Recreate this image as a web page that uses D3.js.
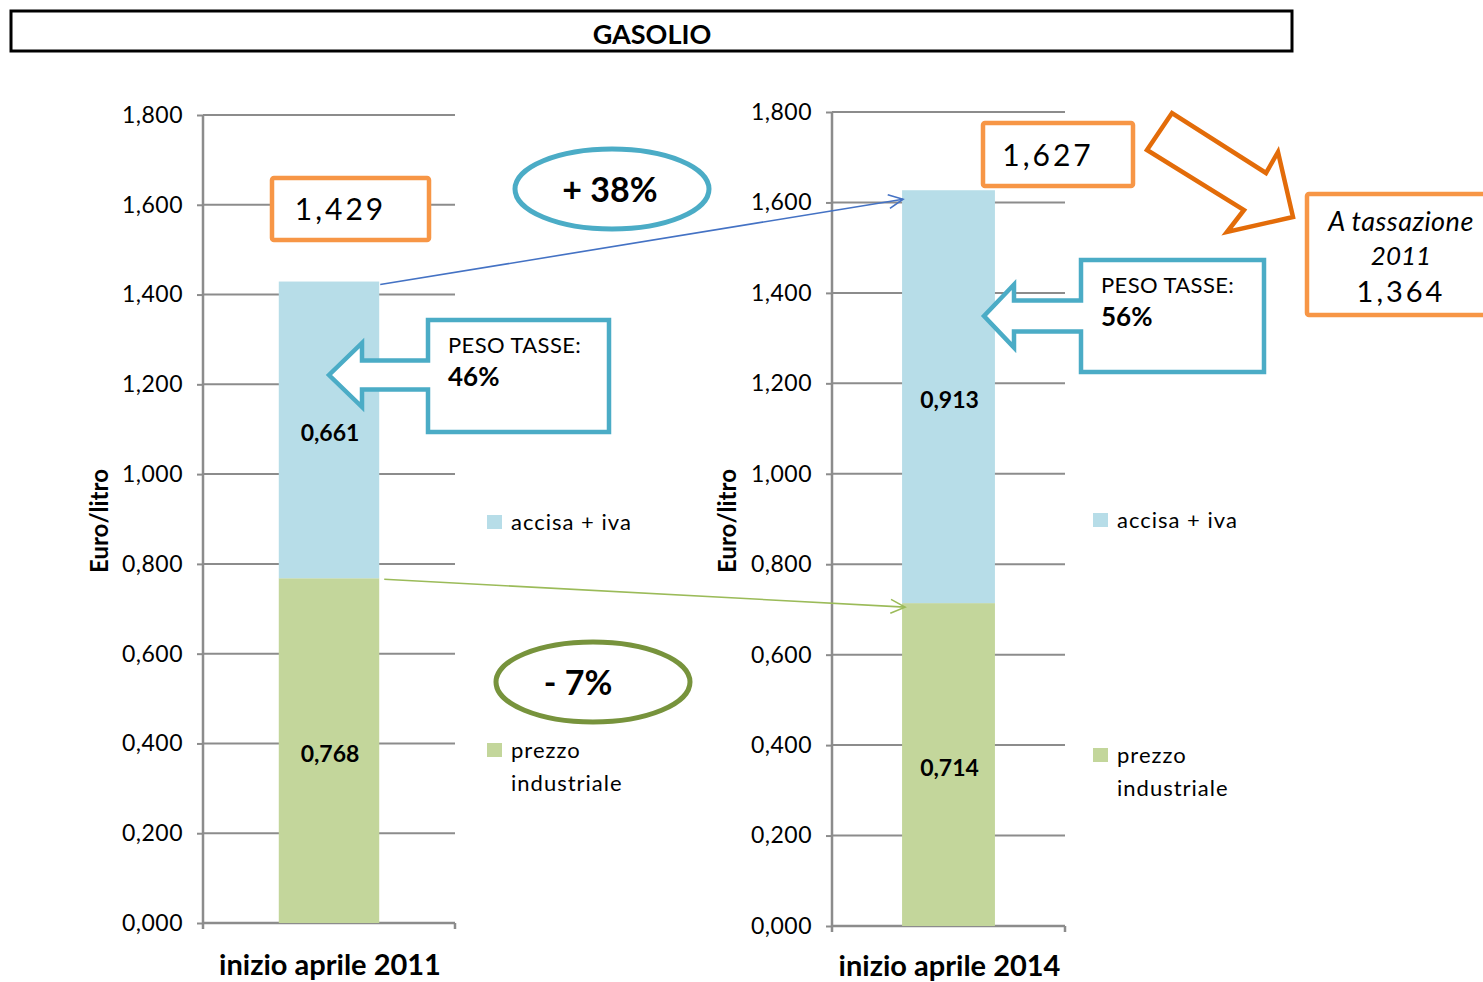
<!DOCTYPE html>
<html>
<head>
<meta charset="utf-8">
<script src="https://cdn.jsdelivr.net/npm/d3@7"></script>
<style>
  html, body { margin: 0; padding: 0; background: #fff; }
  svg { display: block; font-family: Lato, "Open Sans", sans-serif; }
</style>
</head>
<body>
<svg id="chart" width="1483" height="982"></svg>
<script>
// Gasolio: composizione del prezzo al litro, aprile 2011 vs aprile 2014
const title = "GASOLIO";
const categories = ["inizio aprile 2011", "inizio aprile 2014"];
const prezzoIndustriale = [0.768, 0.714];
const acciseIva = [0.661, 0.913];
const totali = [1.429, 1.627];
const pesoTasse = ["46%", "56%"];
const yTicks = [0, 0.2, 0.4, 0.6, 0.8, 1.0, 1.2, 1.4, 1.6, 1.8];
const seriesNames = ["accisa + iva", "prezzo industriale"];
const variazioni = ["+ 38%", "- 7%"];
const totale2014ConTasse2011 = 1.364;

const colors = { accise: "#B7DDE8", prezzo: "#C3D69B", grid: "#8C8C8C",
  orange: "#F79646", orangeDark: "#E36C09", teal: "#4BACC6", olive: "#77933C",
  blueLine: "#4472C4", greenLine: "#9BBB59" };

const fmt = v => d3.format(".3f")(v).replace(".", ",");
const svg = d3.select("#chart");

// title bar
svg.append("rect").attr("x", 11).attr("y", 11).attr("width", 1281).attr("height", 40)
  .attr("fill", "#fff").attr("stroke", "#000").attr("stroke-width", 3);
svg.append("text").attr("x", 652).attr("y", 44).attr("text-anchor", "middle")
  .attr("font-size", 27).attr("font-weight", 700).text(title);

// panel frames (one chart per year)
const panels = [
  { left: 203, right: 455, top: 115, bottom: 923, labelDy: 52, titleX: 108, legendX: 487, legY: [522, 750, 783] },
  { left: 832, right: 1065, top: 112, bottom: 926, labelDy: 50, titleX: 736, legendX: 1093, legY: [520, 755, 788] }
];

panels.forEach((p, i) => {
  const g = svg.append("g");
  const y = d3.scaleLinear().domain([0, 1.8]).range([p.bottom, p.top]);
  const x = d3.scaleBand().domain([categories[i]]).range([p.left, p.right]).padding(0.43);
  p.y = y; p.x = x;

  // gridlines
  g.selectAll("line.grid").data(yTicks.slice(1)).join("line")
    .attr("x1", p.left).attr("x2", p.right)
    .attr("y1", d => y(d)).attr("y2", d => y(d))
    .attr("stroke", colors.grid).attr("stroke-width", 2);

  // y axis
  const ax = g.append("g").attr("transform", `translate(${p.left},0)`)
    .call(d3.axisLeft(y).tickValues(yTicks).tickFormat(fmt).tickSize(6).tickPadding(14));
  ax.select(".domain").attr("stroke", colors.grid).attr("stroke-width", 2.5)
    .attr("d", `M0,${p.top}V${p.bottom}`);
  ax.selectAll(".tick line").attr("stroke", colors.grid).attr("stroke-width", 2);
  ax.selectAll(".tick text").attr("font-size", 23).attr("fill", "#000")
    .attr("font-family", "Lato, sans-serif").attr("letter-spacing", 0.5);

  // x axis
  g.append("path").attr("d", `M${p.left},${p.bottom}H${p.right}M${p.left},${p.bottom}v6M${p.right},${p.bottom}v6`)
    .attr("stroke", colors.grid).attr("stroke-width", 2.5).attr("fill", "none");
  g.append("text").attr("x", x(categories[i]) + x.bandwidth() / 2 + 1).attr("y", p.bottom + p.labelDy)
    .attr("text-anchor", "middle").attr("font-size", 29).attr("font-weight", 700)
    .text(categories[i]);

  // y title
  g.append("text").attr("transform", `translate(${p.titleX},${(p.top + p.bottom) / 2 + 2}) rotate(-90)`)
    .attr("text-anchor", "middle").attr("font-size", 24).attr("font-weight", 700).text("Euro/litro");

  // stacked bars
  const segs = [
    { v0: 0, v1: prezzoIndustriale[i], c: colors.prezzo, lab: prezzoIndustriale[i] },
    { v0: prezzoIndustriale[i], v1: prezzoIndustriale[i] + acciseIva[i], c: colors.accise, lab: acciseIva[i] }
  ];
  g.selectAll("rect.bar").data(segs).join("rect")
    .attr("x", x(categories[i])).attr("width", x.bandwidth())
    .attr("y", d => y(d.v1)).attr("height", d => y(d.v0) - y(d.v1)).attr("fill", d => d.c);
  g.selectAll("text.lab").data(segs).join("text")
    .attr("x", x(categories[i]) + x.bandwidth() / 2 + 1).attr("y", d => (y(d.v0) + y(d.v1)) / 2 + 11)
    .attr("text-anchor", "middle").attr("font-size", 23).attr("font-weight", 700)
    .text(d => fmt(d.lab));

  // legend
  const lg = g.append("g");
  const lt = (yy, t) => lg.append("text").attr("x", p.legendX + 24).attr("y", yy + 8)
    .attr("font-size", 22).attr("letter-spacing", 1).text(t);
  lg.append("rect").attr("x", p.legendX).attr("y", p.legY[0] - 7).attr("width", 15).attr("height", 14).attr("fill", colors.accise);
  lt(p.legY[0], seriesNames[0]);
  lg.append("rect").attr("x", p.legendX).attr("y", p.legY[1] - 7).attr("width", 15).attr("height", 14).attr("fill", colors.prezzo);
  const words = seriesNames[1].split(" ");
  lt(p.legY[1], words[0]);
  lt(p.legY[2], words[1]);
});

const [P0, P1] = panels;
const c0 = categories[0], c1 = categories[1];

// straight connector with an open arrowhead
function arrowLine(x1, y1, x2, y2, color) {
  svg.append("line").attr("x1", x1).attr("y1", y1).attr("x2", x2).attr("y2", y2)
    .attr("stroke", color).attr("stroke-width", 1.6);
  const a = Math.atan2(y2 - y1, x2 - x1), L = 16, w = 0.45;
  const p1 = [x2 - L * Math.cos(a - w), y2 - L * Math.sin(a - w)];
  const p2 = [x2 - L * Math.cos(a + w), y2 - L * Math.sin(a + w)];
  svg.append("path").attr("d", `M${p1}L${x2},${y2}L${p2}`)
    .attr("fill", "none").attr("stroke", color).attr("stroke-width", 1.6);
}
// totals trend
arrowLine(P0.x(c0) + P0.x.bandwidth() + 1, P0.y(totali[0]) + 3,
          P1.x(c1) + 1, P1.y(totali[1]) + 9, colors.blueLine);
// industrial price trend
arrowLine(P0.x(c0) + P0.x.bandwidth() + 5, P0.y(prezzoIndustriale[0]) + 1,
          P1.x(c1) + 3, P1.y(prezzoIndustriale[1]) + 4, colors.greenLine);

// orange total boxes
function totalBox(x, y, w, h, label) {
  svg.append("rect").attr("x", x).attr("y", y).attr("width", w).attr("height", h).attr("rx", 2)
    .attr("fill", "#fff").attr("stroke", colors.orange).attr("stroke-width", 4.5);
  svg.append("text").attr("x", x + w / 2 - 10).attr("y", y + h / 2 + 11).attr("text-anchor", "middle")
    .attr("font-size", 30).attr("letter-spacing", 3).text(label);
}
totalBox(272, 178, 157, 62, fmt(totali[0]));
totalBox(983, 123, 150, 63, fmt(totali[1]));

// variation ellipses
function varEllipse(cx, cy, dx, color, label) {
  svg.append("ellipse").attr("cx", cx).attr("cy", cy).attr("rx", 97).attr("ry", 40)
    .attr("fill", "#fff").attr("stroke", color).attr("stroke-width", 5);
  svg.append("text").attr("x", cx + dx).attr("y", cy + 13).attr("text-anchor", "middle")
    .attr("font-size", 34).attr("font-weight", 700).text(label);
}
varEllipse(612, 189, -2, colors.teal, variazioni[0]);
varEllipse(593, 682, -15, colors.olive, variazioni[1]);

// "PESO TASSE" callouts with left-pointing block arrow
function callout(bx, by, bw, bh, tipX, tipY, baseX, shaftH, headH, pct) {
  const d = `M${bx},${by}H${bx + bw}V${by + bh}H${bx}V${tipY + shaftH / 2}H${baseX}V${tipY + headH / 2}` +
    `L${tipX},${tipY}L${baseX},${tipY - headH / 2}V${tipY - shaftH / 2}H${bx}Z`;
  svg.append("path").attr("d", d).attr("fill", "#fff").attr("stroke", colors.teal)
    .attr("stroke-width", 4.5).attr("stroke-linejoin", "miter");
  svg.append("text").attr("x", bx + 20).attr("y", by + 33).attr("font-size", 22)
    .attr("letter-spacing", 0.4).text("PESO TASSE:");
  svg.append("text").attr("x", bx + 20).attr("y", by + 66).attr("font-size", 26)
    .attr("font-weight", 700).text(pct);
}
callout(428, 320, 181, 112, 329, 375, 362, 29, 64, pesoTasse[0]);
callout(1081, 260, 183, 112, 984, 316, 1014, 31, 63, pesoTasse[1]);

// orange block arrow to the "tassazione 2011" box
svg.append("path")
  .attr("d", "M1147,150L1172,113L1266,173L1278,152L1293,217L1227,232L1244,210Z")
  .attr("fill", "#fff").attr("stroke", colors.orangeDark).attr("stroke-width", 4.5)
  .attr("stroke-linejoin", "miter");
svg.append("rect").attr("x", 1307).attr("y", 194).attr("width", 200).attr("height", 121).attr("rx", 2)
  .attr("fill", "#fff").attr("stroke", colors.orange).attr("stroke-width", 4.5);
svg.append("text").attr("x", 1401).attr("y", 231).attr("text-anchor", "middle")
  .attr("font-size", 27).attr("font-style", "italic").attr("letter-spacing", 0.5).text("A tassazione");
svg.append("text").attr("x", 1401).attr("y", 265).attr("text-anchor", "middle")
  .attr("font-size", 26).attr("font-style", "italic").text("2011");
svg.append("text").attr("x", 1401).attr("y", 302).attr("text-anchor", "middle")
  .attr("font-size", 29).attr("letter-spacing", 3).text(fmt(totale2014ConTasse2011));
</script>
</body>
</html>
